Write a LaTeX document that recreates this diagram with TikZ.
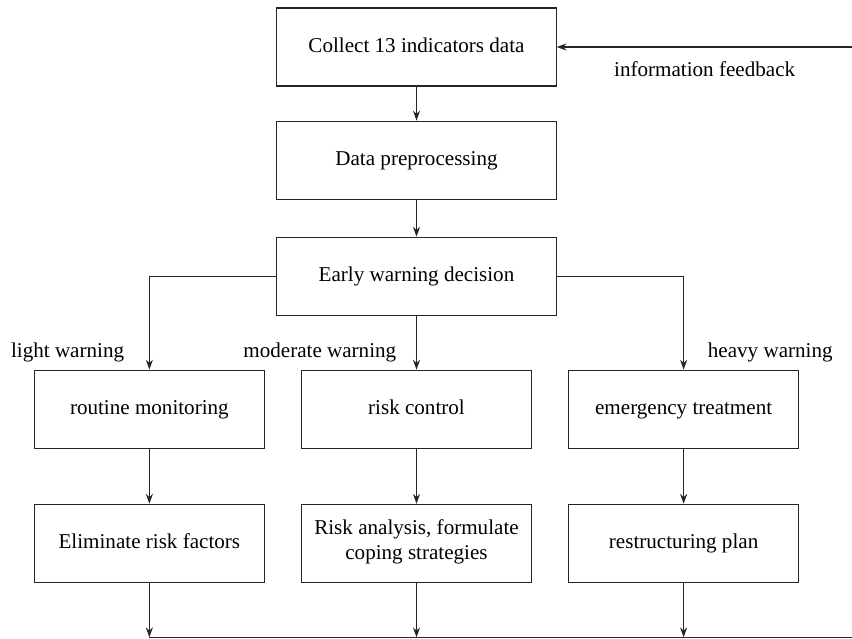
\documentclass[tikz,border=0pt]{standalone}
\usepackage{fontspec}
\setmainfont{Liberation Serif}
\usepackage{tikz}
\usetikzlibrary{arrows.meta, positioning, calc}

\begin{document}
\begin{tikzpicture}[
    box/.style={rectangle, draw=black!85, line width=0.8pt, minimum height=1.95cm, align=center, execute at begin node=\strut, font=\fontsize{15}{18}\selectfont},
    mainbox/.style={box, minimum width=6.98cm},
    subbox/.style={box, minimum width=5.75cm},
    tag/.style={inner sep=0pt, font=\fontsize{15}{18}\selectfont},
    line/.style={draw=black!85, line width=0.8pt},
    arrow/.style={line, -{Stealth[length=7pt, width=5pt]}}
]
\useasboundingbox (0,0) rectangle (21.3,-15.975);

\node[mainbox] (collect) at (10.4125,-1.175) {Collect 13 indicators data};
\node[mainbox, below=0.85cm of collect] (prep) {Data preprocessing};
\node[mainbox, below=0.925cm of prep] (decision) {Early warning decision};

\node[subbox, below=1.345cm of decision] (control) {risk control};
\node[subbox, left=0.9cm of control] (routine) {routine monitoring};
\node[subbox, right=0.9cm of control] (emergency) {emergency treatment};

\node[subbox, below=1.375cm of routine] (eliminate) {Eliminate risk factors};
\node[subbox, below=1.375cm of control] (strategy) {Risk analysis, formulate\\coping strategies};
\node[subbox, below=1.375cm of emergency] (restruct) {restructuring plan};

\coordinate (fbstart) at ([xshift=7.4cm]collect.east);
\coordinate[below=1.36cm of eliminate] (end1);
\coordinate[below=1.36cm of strategy] (end2);
\coordinate[below=1.36cm of restruct] (end3);
\coordinate (busR) at (end1 -| fbstart);

\draw[arrow] (fbstart) -- (collect.east) node[tag, midway, below=0.34cm] {information feedback};
\draw[arrow] (collect) -- (prep);
\draw[arrow] (prep) -- (decision);

\draw[arrow] (decision.west) -| (routine);
\draw[arrow] (decision) -- (control);
\draw[arrow] (decision.east) -| (emergency);

\draw[arrow] (routine) -- (eliminate);
\draw[arrow] (control) -- (strategy);
\draw[arrow] (emergency) -- (restruct);

\draw[arrow] (eliminate) -- (end1);
\draw[arrow] (strategy) -- (end2);
\draw[arrow] (restruct) -- (end3);
\draw[line] (end1) -- (busR);

\node[tag, left=0.625cm of routine.north, yshift=0.42cm] (light) {light warning};
\node[tag, left=0.5cm of control.north, yshift=0.42cm] (moderate) {moderate warning};
\node[tag, right=0.6cm of emergency.north, yshift=0.42cm] (heavy) {heavy warning};

\end{tikzpicture}
\end{document}
